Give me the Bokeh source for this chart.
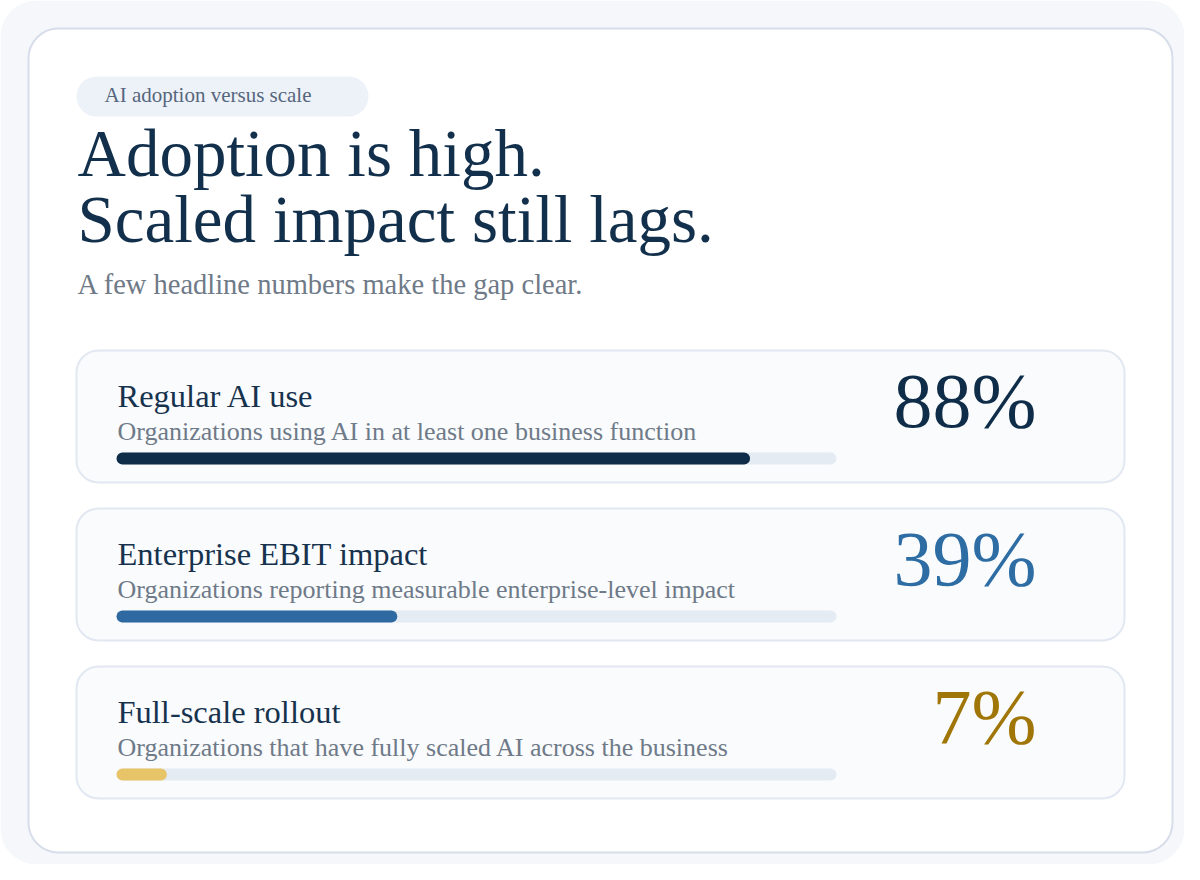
from bokeh.plotting import figure
from bokeh.models import Range1d
from bokeh.core.properties import value
from bokeh.embed import file_html
from bokeh.resources import INLINE

# ---- data ----
eyebrow = "AI adoption versus scale"
title_lines = ["Adoption is high.", "Scaled impact still lags."]
subtitle = "A few headline numbers make the gap clear."
labels = ["Regular AI use", "Enterprise EBIT impact", "Full-scale rollout"]
descriptions = [
    "Organizations using AI in at least one business function",
    "Organizations reporting measurable enterprise-level impact",
    "Organizations that have fully scaled AI across the business",
]
values = [88, 39, 7]
value_labels = ["88%", "39%", "7%"]
bar_colors = ["#0f2d48", "#2e6aa1", "#e8c468"]
num_colors = ["#0f2d48", "#2e6da4", "#a07608"]

W, H = 1184, 864
FONT = value("Liberation Serif")
K = 0.36  # baseline compensation factor


def txt(x, y, t, size, color, align="left"):
    p.text(x=x, y=[yy - K * size for yy in y], text=t, text_font=FONT,
           text_font_size=value(f"{size}px"), text_color=color,
           text_align=align, text_baseline="alphabetic")


p = figure(width=W, height=H, x_range=Range1d(0, W), y_range=Range1d(H, 0),
           output_backend="svg", toolbar_location=None, min_border=0)
p.axis.visible = False
p.grid.visible = False
p.outline_line_color = None
p.background_fill_color = "white"
p.border_fill_color = "white"

# outer background and card
p.quad(left=[0], right=[W], top=[0], bottom=[H], fill_color="#f5f7fb",
       line_color=None, border_radius=36)
p.quad(left=[28], right=[1172], top=[28], bottom=[852],
       fill_color="white", line_color="#d7deea", line_width=2, border_radius=30)

# eyebrow pill
p.quad(left=[76], right=[368], top=[76], bottom=[116],
       fill_color="#edf2f9", line_color=None, border_radius=20)
txt([104], [102], [eyebrow], 21, "#56667d")

# title
txt([77, 77], [177, 243], title_lines, 67, "#12304c")
txt([77], [294], [subtitle], 28.5, "#6f7a88")

track_left = 116
track_w = 720
for i, (lab, desc, v, vl) in enumerate(zip(labels, descriptions, values, value_labels)):
    dy = i * 158
    top = 350 + dy
    p.quad(left=[76], right=[1124], top=[top], bottom=[top + 132],
           fill_color="#f9fbfd", line_color="#e2e8f1", line_width=2, border_radius=22)
    txt([117], [407 + dy], [lab], 32.5, "#17324d")
    txt([117], [440 + dy], [desc], 26, "#6f7a88")
    yb = 458 + dy
    p.hbar(y=[yb], left=[track_left], right=[track_left + track_w], height=12,
           fill_color="#e5ebf3", line_color=None, border_radius=6)
    p.hbar(y=[yb], left=[track_left], right=[track_left + track_w * v / 100], height=12,
           fill_color=bar_colors[i], line_color=None, border_radius=6)
    txt([1036], [428 + dy], [vl], 78, num_colors[i], align="right")

open("out.html", "w").write(file_html(p, INLINE))
